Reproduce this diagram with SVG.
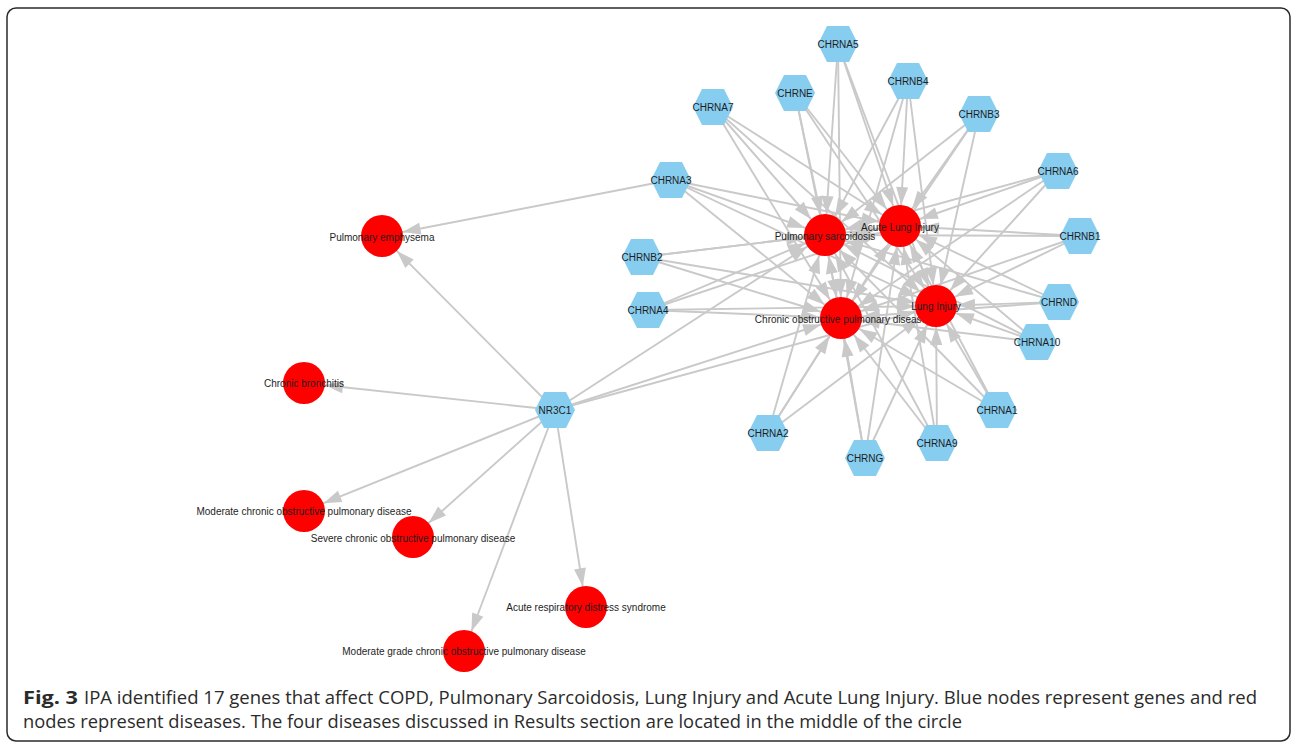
<svg xmlns="http://www.w3.org/2000/svg" width="1292" height="745" viewBox="0 0 1292 745">
<style>
.e{stroke:#c9c9c9;stroke-width:1.9;fill:none;marker-end:url(#arr)}
.hex{fill:#87cdf0}
.dis{fill:#ff0000}
.lbl{font-family:"Liberation Sans",Arial,sans-serif;font-size:10px;fill:#1e1e1e;text-anchor:middle;dominant-baseline:central}
.cap{font-family:"Open Sans","Noto Sans",sans-serif;font-size:18px;fill:#2b2b2b}
</style>
<defs>
<marker id="arr" markerUnits="userSpaceOnUse" markerWidth="18" markerHeight="12" refX="39" refY="6" orient="auto" overflow="visible">
<path d="M0,0 L18,6 L0,12 z" fill="#c9c9c9"/>
</marker>
<polygon id="hx" points="-20,0 -11,-18 11,-18 20,0 11,18 -11,18"/>
</defs>
<rect x="7" y="8" width="1283" height="733" rx="9" ry="9" fill="#ffffff" stroke="#2a2a2a" stroke-width="1.5"/>
<g id="connectors">
<line class="e" x1="838" y1="44" x2="825" y2="235"/>
<line class="e" x1="838" y1="44" x2="900" y2="226"/>
<line class="e" x1="838" y1="44" x2="841" y2="318"/>
<line class="e" x1="838" y1="44" x2="936" y2="306"/>
<line class="e" x1="795" y1="93" x2="825" y2="235"/>
<line class="e" x1="795" y1="93" x2="900" y2="226"/>
<line class="e" x1="795" y1="93" x2="841" y2="318"/>
<line class="e" x1="795" y1="93" x2="936" y2="306"/>
<line class="e" x1="908" y1="81" x2="825" y2="235"/>
<line class="e" x1="908" y1="81" x2="900" y2="226"/>
<line class="e" x1="908" y1="81" x2="841" y2="318"/>
<line class="e" x1="908" y1="81" x2="936" y2="306"/>
<line class="e" x1="713" y1="107" x2="825" y2="235"/>
<line class="e" x1="713" y1="107" x2="900" y2="226"/>
<line class="e" x1="713" y1="107" x2="841" y2="318"/>
<line class="e" x1="713" y1="107" x2="936" y2="306"/>
<line class="e" x1="979" y1="114" x2="825" y2="235"/>
<line class="e" x1="979" y1="114" x2="900" y2="226"/>
<line class="e" x1="979" y1="114" x2="841" y2="318"/>
<line class="e" x1="979" y1="114" x2="936" y2="306"/>
<line class="e" x1="671" y1="180" x2="825" y2="235"/>
<line class="e" x1="671" y1="180" x2="900" y2="226"/>
<line class="e" x1="671" y1="180" x2="841" y2="318"/>
<line class="e" x1="671" y1="180" x2="936" y2="306"/>
<line class="e" x1="671" y1="180" x2="382" y2="236"/>
<line class="e" x1="1058" y1="171" x2="825" y2="235"/>
<line class="e" x1="1058" y1="171" x2="900" y2="226"/>
<line class="e" x1="1058" y1="171" x2="841" y2="318"/>
<line class="e" x1="1058" y1="171" x2="936" y2="306"/>
<line class="e" x1="1080" y1="236" x2="825" y2="235"/>
<line class="e" x1="1080" y1="236" x2="900" y2="226"/>
<line class="e" x1="1080" y1="236" x2="841" y2="318"/>
<line class="e" x1="1080" y1="236" x2="936" y2="306"/>
<line class="e" x1="642" y1="257" x2="825" y2="235"/>
<line class="e" x1="642" y1="257" x2="900" y2="226"/>
<line class="e" x1="642" y1="257" x2="841" y2="318"/>
<line class="e" x1="642" y1="257" x2="936" y2="306"/>
<line class="e" x1="648" y1="310" x2="825" y2="235"/>
<line class="e" x1="648" y1="310" x2="900" y2="226"/>
<line class="e" x1="648" y1="310" x2="841" y2="318"/>
<line class="e" x1="648" y1="310" x2="936" y2="306"/>
<line class="e" x1="1059" y1="302" x2="825" y2="235"/>
<line class="e" x1="1059" y1="302" x2="900" y2="226"/>
<line class="e" x1="1059" y1="302" x2="841" y2="318"/>
<line class="e" x1="1059" y1="302" x2="936" y2="306"/>
<line class="e" x1="1037" y1="342" x2="825" y2="235"/>
<line class="e" x1="1037" y1="342" x2="900" y2="226"/>
<line class="e" x1="1037" y1="342" x2="841" y2="318"/>
<line class="e" x1="1037" y1="342" x2="936" y2="306"/>
<line class="e" x1="997" y1="410" x2="825" y2="235"/>
<line class="e" x1="997" y1="410" x2="900" y2="226"/>
<line class="e" x1="997" y1="410" x2="841" y2="318"/>
<line class="e" x1="997" y1="410" x2="936" y2="306"/>
<line class="e" x1="768" y1="433" x2="825" y2="235"/>
<line class="e" x1="768" y1="433" x2="900" y2="226"/>
<line class="e" x1="768" y1="433" x2="841" y2="318"/>
<line class="e" x1="768" y1="433" x2="936" y2="306"/>
<line class="e" x1="937" y1="443" x2="825" y2="235"/>
<line class="e" x1="937" y1="443" x2="900" y2="226"/>
<line class="e" x1="937" y1="443" x2="841" y2="318"/>
<line class="e" x1="937" y1="443" x2="936" y2="306"/>
<line class="e" x1="865" y1="458" x2="825" y2="235"/>
<line class="e" x1="865" y1="458" x2="900" y2="226"/>
<line class="e" x1="865" y1="458" x2="841" y2="318"/>
<line class="e" x1="865" y1="458" x2="936" y2="306"/>
<line class="e" x1="555" y1="410" x2="825" y2="235"/>
<line class="e" x1="555" y1="410" x2="841" y2="318"/>
<line class="e" x1="555" y1="410" x2="936" y2="306"/>
<line class="e" x1="555" y1="410" x2="382" y2="236"/>
<line class="e" x1="555" y1="410" x2="304" y2="383"/>
<line class="e" x1="555" y1="410" x2="304" y2="511"/>
<line class="e" x1="555" y1="410" x2="413" y2="537"/>
<line class="e" x1="555" y1="410" x2="586" y2="607"/>
<line class="e" x1="555" y1="410" x2="464" y2="651"/>
</g>
<g id="node-CHRNA5"><use href="#hx" class="hex" x="838" y="44"/><text class="lbl" x="838" y="44">CHRNA5</text></g>
<g id="node-CHRNE"><use href="#hx" class="hex" x="795" y="93"/><text class="lbl" x="795" y="93">CHRNE</text></g>
<g id="node-CHRNB4"><use href="#hx" class="hex" x="908" y="81"/><text class="lbl" x="908" y="81">CHRNB4</text></g>
<g id="node-CHRNA7"><use href="#hx" class="hex" x="713" y="107"/><text class="lbl" x="713" y="107">CHRNA7</text></g>
<g id="node-CHRNB3"><use href="#hx" class="hex" x="979" y="114"/><text class="lbl" x="979" y="114">CHRNB3</text></g>
<g id="node-CHRNA3"><use href="#hx" class="hex" x="671" y="180"/><text class="lbl" x="671" y="180">CHRNA3</text></g>
<g id="node-CHRNA6"><use href="#hx" class="hex" x="1058" y="171"/><text class="lbl" x="1058" y="171">CHRNA6</text></g>
<g id="node-CHRNB1"><use href="#hx" class="hex" x="1080" y="236"/><text class="lbl" x="1080" y="236">CHRNB1</text></g>
<g id="node-CHRNB2"><use href="#hx" class="hex" x="642" y="257"/><text class="lbl" x="642" y="257">CHRNB2</text></g>
<g id="node-CHRNA4"><use href="#hx" class="hex" x="648" y="310"/><text class="lbl" x="648" y="310">CHRNA4</text></g>
<g id="node-CHRND"><use href="#hx" class="hex" x="1059" y="302"/><text class="lbl" x="1059" y="302">CHRND</text></g>
<g id="node-CHRNA10"><use href="#hx" class="hex" x="1037" y="342"/><text class="lbl" x="1037" y="342">CHRNA10</text></g>
<g id="node-CHRNA1"><use href="#hx" class="hex" x="997" y="410"/><text class="lbl" x="997" y="410">CHRNA1</text></g>
<g id="node-CHRNA2"><use href="#hx" class="hex" x="768" y="433"/><text class="lbl" x="768" y="433">CHRNA2</text></g>
<g id="node-CHRNA9"><use href="#hx" class="hex" x="937" y="443"/><text class="lbl" x="937" y="443">CHRNA9</text></g>
<g id="node-CHRNG"><use href="#hx" class="hex" x="865" y="458"/><text class="lbl" x="865" y="458">CHRNG</text></g>
<g id="node-NR3C1"><use href="#hx" class="hex" x="555" y="410"/><text class="lbl" x="555" y="410">NR3C1</text></g>
<g id="node-PS"><circle class="dis" cx="825" cy="235" r="21"/><text class="lbl" x="825" y="236">Pulmonary sarcoidosis</text></g>
<g id="node-ALI"><circle class="dis" cx="900" cy="226" r="21"/><text class="lbl" x="900" y="227">Acute Lung Injury</text></g>
<g id="node-COPD"><circle class="dis" cx="841" cy="318" r="21"/><text class="lbl" x="841" y="319">Chronic obstructive pulmonary disease</text></g>
<g id="node-LI"><circle class="dis" cx="936" cy="306" r="21"/><text class="lbl" x="936" y="306">Lung Injury</text></g>
<g id="node-PE"><circle class="dis" cx="382" cy="236" r="21"/><text class="lbl" x="382" y="237">Pulmonary emphysema</text></g>
<g id="node-CB"><circle class="dis" cx="304" cy="383" r="21"/><text class="lbl" x="304" y="383">Chronic bronchitis</text></g>
<g id="node-MCOPD"><circle class="dis" cx="304" cy="511" r="21"/><text class="lbl" x="304" y="511">Moderate chronic obstructive pulmonary disease</text></g>
<g id="node-SCOPD"><circle class="dis" cx="413" cy="537" r="21"/><text class="lbl" x="413" y="538">Severe chronic obstructive pulmonary disease</text></g>
<g id="node-ARDS"><circle class="dis" cx="586" cy="607" r="21"/><text class="lbl" x="586" y="607">Acute respiratory distress syndrome</text></g>
<g id="node-MG"><circle class="dis" cx="464" cy="651" r="21"/><text class="lbl" x="464" y="651">Moderate grade chronic obstructive pulmonary disease</text></g>
<g id="caption">
<text class="cap" x="23" y="704" font-weight="bold" textLength="55" lengthAdjust="spacingAndGlyphs">Fig. 3</text>
<text class="cap" x="84" y="704" textLength="1173" lengthAdjust="spacingAndGlyphs">IPA identified 17 genes that affect COPD, Pulmonary Sarcoidosis, Lung Injury and Acute Lung Injury. Blue nodes represent genes and red</text>
<text class="cap" x="23" y="728" textLength="939" lengthAdjust="spacingAndGlyphs">nodes represent diseases. The four diseases discussed in Results section are located in the middle of the circle</text>
</g>
</svg>
